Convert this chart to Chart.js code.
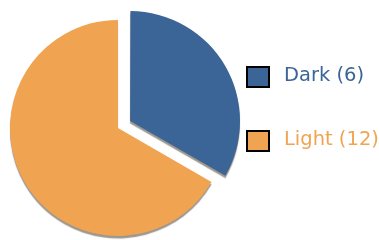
<!DOCTYPE html>
<html>
<head>
<meta charset="utf-8">
<script src="https://cdn.jsdelivr.net/npm/chart.js@4/dist/chart.umd.min.js"></script>
<style>
  html, body { margin: 0; padding: 0; background: #fff; }
  #wrap { width: 379px; height: 240px; }
</style>
</head>
<body>
<div id="wrap"><canvas id="PieChart" width="379" height="240"></canvas></div>
<script>
const categories = ['Dark', 'Light'];
const counts = [6, 12];
const colors = ['#3a6596', '#f0a452'];
// arc offset is divided by 4 inside Chart.js, 56 -> ~14px
const offsets = [56, 0];

// thin drop shadow under the slices
const sliceShadow = {
    id: 'sliceShadow',
    beforeDatasetsDraw(chart) {
        const ctx = chart.ctx;
        ctx.save();
        ctx.shadowColor = 'rgba(40, 25, 5, 0.45)';
        ctx.shadowOffsetX = 0;
        ctx.shadowOffsetY = 2.5;
        ctx.shadowBlur = 1;
    },
    afterDatasetsDraw(chart) {
        chart.ctx.restore();
    }
};

// legend at the right, boxes with black border, text in slice colour
const sideLegend = {
    id: 'sideLegend',
    afterDraw(chart) {
        const ctx = chart.ctx;
        const x = chart.chartArea.right + 11;
        ctx.save();
        ctx.font = '19.5px "DejaVu Sans", Verdana, sans-serif';
        ctx.textBaseline = 'alphabetic';
        categories.forEach((name, i) => {
            const top = 67 + i * 64;
            ctx.fillStyle = colors[i];
            ctx.fillRect(x, top, 22, 20);
            ctx.lineWidth = 2;
            ctx.strokeStyle = '#000';
            ctx.strokeRect(x, top, 22, 20);
            ctx.fillText(name + ' (' + counts[i] + ')', x + 37, top + 14);
        });
        ctx.restore();
    }
};

new Chart(document.getElementById('PieChart').getContext('2d'), {
    type: 'pie',
    data: {
        labels: categories,
        datasets: [{
            data: counts,
            backgroundColor: colors,
            borderWidth: 0,
            offset: offsets,
            hoverOffset: 0
        }]
    },
    options: {
        responsive: false,
        animation: false,
        radius: 108,
        layout: {
            padding: { left: 0, right: 143, top: 16, bottom: 0 }
        },
        plugins: {
            legend: { display: false },
            tooltip: { enabled: false }
        }
    },
    plugins: [sliceShadow, sideLegend]
});
</script>
</body>
</html>
